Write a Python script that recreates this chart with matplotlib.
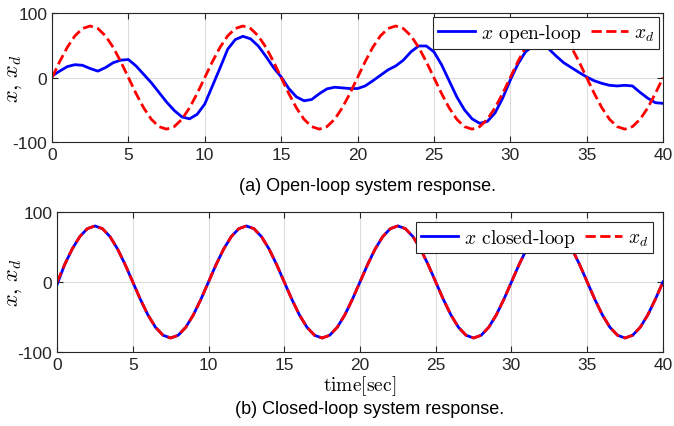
import numpy as np
import matplotlib
matplotlib.use("Agg")
from matplotlib import pyplot as plt

plt.rcParams['font.family'] = ['Liberation Sans', 'DejaVu Sans']
plt.rcParams['mathtext.fontset'] = 'cm'
plt.rcParams['axes.unicode_minus'] = False

# time samples [sec]
t = np.arange(0, 40.01, 0.5)

# desired trajectory x_d
x_d = [0, 24.7, 47.0, 64.7, 76.1, 80, 76.1, 64.7, 47.0, 24.7,
       0, -24.7, -47.0, -64.7, -76.1, -80, -76.1, -64.7, -47.0, -24.7,
       0, 24.7, 47.0, 64.7, 76.1, 80, 76.1, 64.7, 47.0, 24.7,
       0, -24.7, -47.0, -64.7, -76.1, -80, -76.1, -64.7, -47.0, -24.7,
       0, 24.7, 47.0, 64.7, 76.1, 80, 76.1, 64.7, 47.0, 24.7,
       0, -24.7, -47.0, -64.7, -76.1, -80, -76.1, -64.7, -47.0, -24.7,
       0, 24.7, 47.0, 64.7, 76.1, 80, 76.1, 64.7, 47.0, 24.7,
       0, -24.7, -47.0, -64.7, -76.1, -80, -76.1, -64.7, -47.0, -24.7,
       0]

# open-loop response
x_open = [2.5, 10, 17, 20, 19, 14, 10, 15.5, 23, 27,
          28, 18, 5, -8, -23, -38, -51, -61, -64, -57,
          -41, -13, 15, 44, 59, 64, 60, 49, 33, 15.5,
          1, -17, -30, -36, -34, -25, -17.5, -15, -16, -17,
          -17, -13, -5, 3.5, 12, 18, 27, 40, 49, 49,
          40, 20, -5, -30, -50, -64, -71, -68, -55, -32,
          -4, 21, 40, 49, 51, 45, 33.5, 23, 15.5, 8,
          1, -5, -9, -12, -13, -12, -13, -23, -32, -39,
          -40]

# closed-loop response (tracks x_d)
x_closed = [-4] + x_d[1:]

fig = plt.figure(figsize=(6.74, 4.27), dpi=100)
ax1 = fig.add_axes([0.0772, 0.665, 0.9065, 0.302])
ax2 = fig.add_axes([0.0846, 0.1733, 0.899, 0.328])

def style(ax, lab_x):
    ax.set_xlim(0, 40)
    ax.set_ylim(-100, 100)
    ax.set_xticks(range(0, 41, 5))
    ax.set_yticks([-100, 0, 100])
    ax.grid(True, color='#dcdcdc', linewidth=0.8)
    ax.set_axisbelow(True)
    ax.tick_params(direction='in', top=True, right=True, labelsize=12.5,
                   length=4, width=0.8, colors='#262626')
    for s in ax.spines.values():
        s.set_color('#262626')
        s.set_linewidth(0.8)
    ax.set_ylabel(r'$x,\, x_d$', fontsize=16)
    ax.yaxis.set_label_coords(lab_x, 0.5)

lprop = {'family': 'cmr10', 'size': 14}
lkw = dict(loc='upper right', ncol=2, prop=lprop, fancybox=False,
           edgecolor='#262626', framealpha=1, borderpad=0.25,
           handlelength=1.9, handletextpad=0.3, columnspacing=0.5)
line_kw = dict(lw=2.0, solid_joinstyle='round', dash_joinstyle='round')

ax1.plot(t, x_open, color='#0000ff', label=r'$x$ open-loop', **line_kw)
ax1.plot(t, x_d, color='#ff0000', ls='--', label=r'$x_d$', **line_kw)
style(ax1, -0.046)
leg = ax1.legend(borderaxespad=0.2, **lkw)
leg.get_frame().set_linewidth(0.8)

ax2.plot(t, x_closed, color='#0000ff', label=r'$x$ closed-loop', **line_kw)
ax2.plot(t, x_d, color='#ff0000', ls='--', label=r'$x_d$', **line_kw)
style(ax2, -0.055)
leg = ax2.legend(borderaxespad=0.5, **lkw)
leg.get_frame().set_linewidth(0.8)
ax2.set_xlabel(r'$\mathrm{time[sec]}$', fontsize=14, labelpad=1)

fig.text(0.545, 0.564, '(a) Open-loop system response.', ha='center',
         va='center', fontsize=13)
fig.text(0.548, 0.040, '(b) Closed-loop system response.', ha='center',
         va='center', fontsize=13)

fig.savefig('out.png', dpi=100)
